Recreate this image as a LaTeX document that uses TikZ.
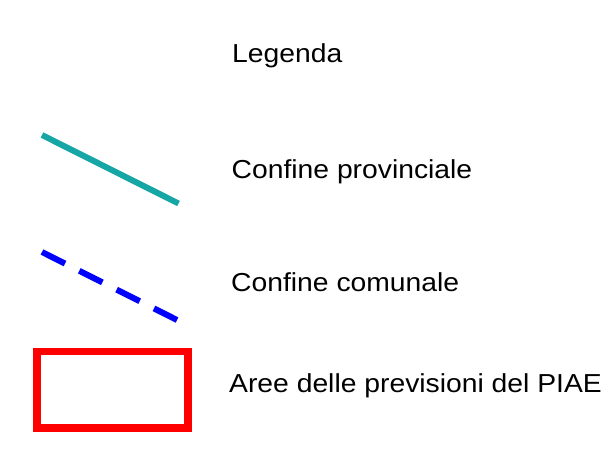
\documentclass[tikz,border=0pt]{standalone}
\usepackage{fontspec}
\setmainfont[FakeStretch=1.088]{Liberation Sans}
\usepackage{xcolor}
\definecolor{TealProv}{HTML}{17A6A6}
\definecolor{BlueCom}{HTML}{0000FF}
\definecolor{RedPiae}{HTML}{FF0000}
\newcommand\labellegenda{Legenda}
\newcommand\labelprov{Confine provinciale}
\newcommand\labelcom{Confine comunale}
\newcommand\labelpiae{Aree delle previsioni del PIAE}
\tikzstyle{mylabelstyle} = [anchor=base west, inner sep=0pt, font=\fontsize{26pt}{30pt}\selectfont]
\tikzstyle{provline} = [draw=TealProv, line width=6pt]
\tikzstyle{comline} = [draw=BlueCom, line width=6pt, dash pattern=on 25.8pt off 16pt]
\tikzstyle{piaebox} = [rectangle, draw=RedPiae, line width=7.5pt, minimum width=151pt, minimum height=76.5pt, inner sep=0pt]

\begin{document}
\begin{tikzpicture}[x=1pt, y=-1pt]
\useasboundingbox (0, 0) rectangle (606, 452);
\node[mylabelstyle] (legenda) at (232, 62.3) {\labellegenda};
\node[mylabelstyle] (prov) at (231.5, 178.3) {\labelprov};
\node[mylabelstyle] (com) at (231, 291.7) {\labelcom};
\node[mylabelstyle] (piae) at (229, 392.3) {\labelpiae};
\coordinate (provA) at (42, 135);
\coordinate (provB) at (178.5, 203.5);
\coordinate (comA) at (42, 252);
\coordinate (comB) at (178, 320.5);
\node[piaebox] (box) at (112.5, 389.75) {};
\draw [provline] (provA) -- (provB);
\draw [comline] (comA) -- (comB);
\end{tikzpicture}
\end{document}
